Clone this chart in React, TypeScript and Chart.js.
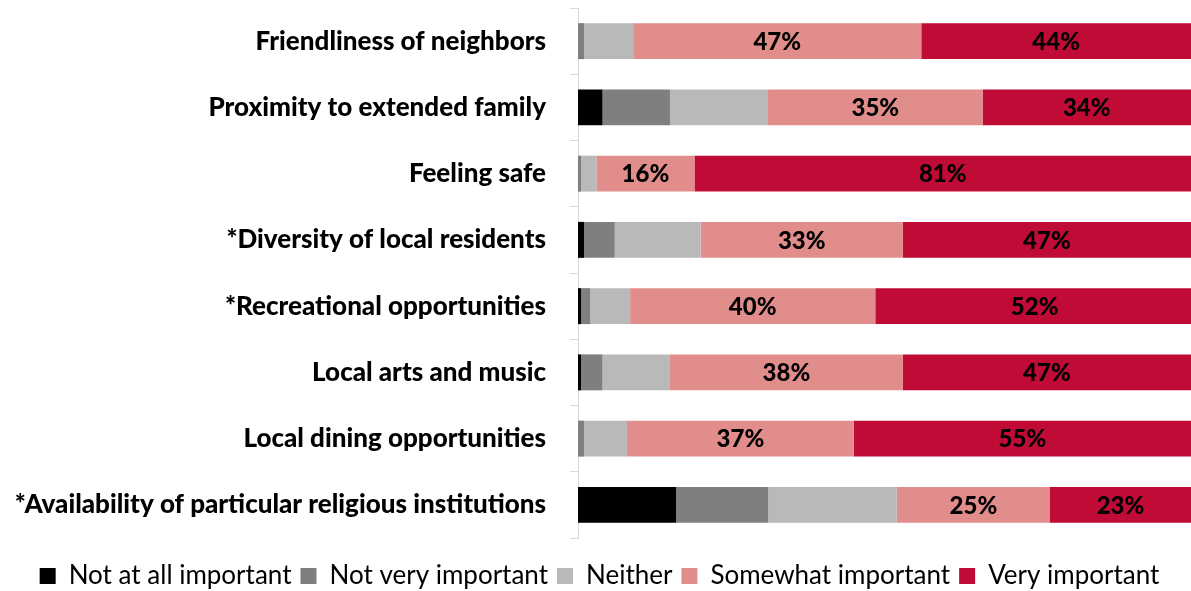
import React, { useEffect, useRef } from "react";
import { Chart, registerables } from "chart.js";

Chart.register(...registerables);

const categories = [
  "Friendliness of neighbors",
  "Proximity to extended family",
  "Feeling safe",
  "*Diversity of local residents",
  "*Recreational opportunities",
  "Local arts and music",
  "Local dining opportunities",
  "*Availability of particular religious institutions",
];

const seriesNames = [
  "Not at all important",
  "Not very important",
  "Neither",
  "Somewhat important",
  "Very important",
];

const seriesColors = ["#000000", "#7f7f7f", "#b8b9b8", "#e08d8b", "#c00b36"];

const notAtAll = [0, 4, 0, 1, 0.5, 0.5, 0, 16];
const notVery = [1, 11, 0.5, 5, 1.5, 3.5, 1, 15];
const neither = [8, 16, 2.5, 14, 6.5, 11, 7, 21];
const somewhat = [47, 35, 16, 33, 40, 38, 37, 25];
const very = [44, 34, 81, 47, 52, 47, 55, 23];

const seriesValues = [notAtAll, notVery, neither, somewhat, very];
const labelledSeries = [3, 4];

const FONT = "Lato, 'Open Sans', sans-serif";

// Percent labels centred inside the "Somewhat" and "Very important" segments
const segmentLabels = {
  id: "segmentLabels",
  afterDatasetsDraw(chart: any) {
    const ctx = chart.ctx;
    ctx.save();
    ctx.font = `900 24px ${FONT}`;
    ctx.fillStyle = "#000000";
    ctx.textAlign = "center";
    ctx.textBaseline = "middle";
    labelledSeries.forEach((di) => {
      const meta = chart.getDatasetMeta(di);
      meta.data.forEach((bar: any, i: number) => {
        const v = chart.data.datasets[di].data[i];
        const cx = (bar.x + bar.base) / 2;
        ctx.fillText(`${v}%`, cx, bar.y + 1);
      });
    });
    ctx.restore();
  },
};

export default function App() {
  const canvasRef = useRef<HTMLCanvasElement | null>(null);

  useEffect(() => {
    if (!canvasRef.current) return;
    const chart = new Chart(canvasRef.current, {
      type: "bar",
      data: {
        labels: categories,
        datasets: seriesValues.map((vals, i) => ({
          label: seriesNames[i],
          data: vals,
          backgroundColor: seriesColors[i],
          borderWidth: 0,
          barPercentage: 0.543,
          categoryPercentage: 1,
        })),
      },
      options: {
        indexAxis: "y",
        animation: false,
        responsive: false,
        maintainAspectRatio: false,
        layout: { padding: { top: 8, right: 0, left: 8, bottom: -8 } },
        scales: {
          x: {
            stacked: true,
            min: 0,
            max: 100,
            display: true,
            grid: { display: false },
            border: { display: false },
            ticks: { display: false },
            afterFit(scale: any) {
              scale.height = 16;
            },
          },
          y: {
            stacked: true,
            offset: true,
            border: { display: true, color: "#d9d9d9", width: 1 },
            grid: {
              offset: true,
              drawOnChartArea: false,
              drawTicks: true,
              tickLength: 8,
              color: "#d9d9d9",
            },
            ticks: {
              color: "#000000",
              padding: 24,
              font: { family: FONT, size: 26, weight: "900" },
            },
            afterFit(scale: any) {
              scale.width = 570;
              scale.paddingTop = 0;
              scale.paddingBottom = 0;
            },
          },
        },
        plugins: {
          legend: {
            position: "bottom",
            labels: {
              color: "#000000",
              boxWidth: 16,
              boxHeight: 16,
              padding: 9,
              font: { family: FONT, size: 26 },
            },
          },
          tooltip: { enabled: false },
        },
      },
      plugins: [segmentLabels],
    });
    return () => chart.destroy();
  }, []);

  return (
    <div style={{ position: "fixed", left: 0, top: 0, width: 1191, height: 591, background: "#ffffff" }}>
      <canvas ref={canvasRef} width={1191} height={591} />
    </div>
  );
}
